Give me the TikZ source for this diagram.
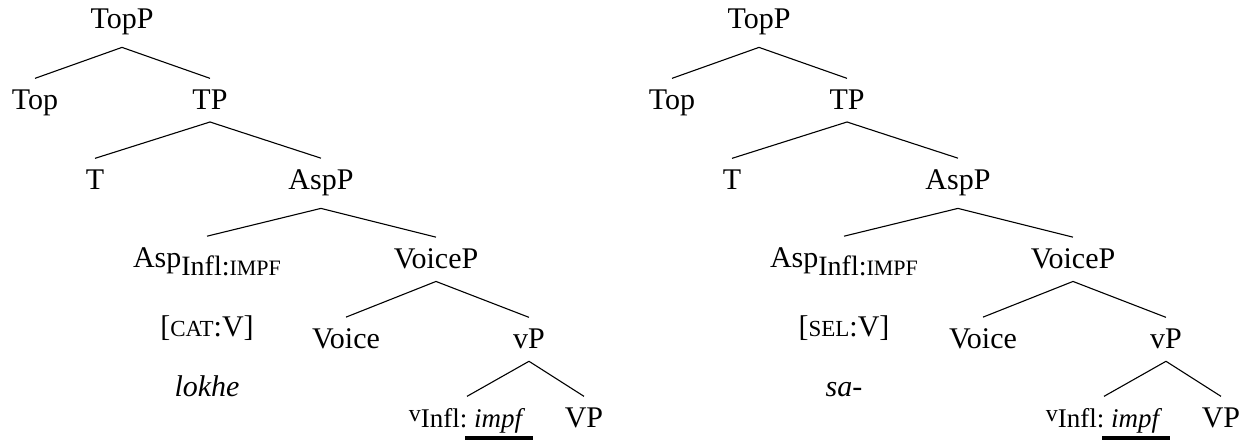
\documentclass[tikz,border=0pt]{standalone}
\usepackage{fontspec}
\setmainfont{Liberation Serif}
\newcommand{\fsz}[1]{\fontsize{#1}{#1}\selectfont}
\newcommand{\onetree}[2]{%
  \node[tn] (TopP) at (122,29) {TopP};
  \node[tn] (Top) at (35,110) {Top};
  \node[tn] (TP) at (210,110) {TP};
  \node[tn] (T) at (95,190) {T};
  \node[tn] (AspP) at (321,190) {AspP};
  \node[tn] (Asp) at (207,268) {Asp\raisebox{-8pt}{\fsz{28}Infl:\fsz{22}IMPF}};
  \node[tn] (VoiceP) at (436,269) {VoiceP};
  \node[plain] (feat) at (207,337) {[{\fsz{23}#1}:V]};
  \node[tn] (Voice) at (346,349) {Voice};
  \node[tn] (vP) at (529,349) {vP};
  \node[plain] (word) at (207,397) {\textit{#2}};
  \node[tn] (v) at (467,428) {\vphantom{P}\raisebox{6pt}{\fsz{24}v}{\fsz{27}Infl:\rlap{\hspace{-2pt}\rule[-11.75pt]{68pt}{3.5pt}}\ \textit{impf}}};
  \node[tn] (VP) at (584,428) {VP};
  \draw[edge] (TopP.south) -- (Top.north);
  \draw[edge] (TopP.south) -- (TP.north);
  \draw[edge] (TP.south) -- (T.north);
  \draw[edge] (TP.south) -- (AspP.north);
  \draw[edge] (AspP.south) -- (Asp.north);
  \draw[edge] (AspP.south) -- (VoiceP.north);
  \draw[edge] (VoiceP.south) -- (Voice.north);
  \draw[edge] (VoiceP.south) -- (vP.north);
  \draw[edge] (vP.south) -- (v.north);
  \draw[edge] (vP.south) -- (VP.north);
}
\begin{document}
\begin{tikzpicture}[x=1pt,y=-1pt,
  tn/.style={inner sep=0pt, outer xsep=0pt, outer ysep=12pt, anchor=base, font=\fsz{30}},
  plain/.style={inner sep=0pt, outer sep=0pt, anchor=base, font=\fsz{30}},
  edge/.style={line width=1.1pt, black}]
\useasboundingbox (0,0) rectangle (1254,443);
\begin{scope}[name prefix=L-]
  \onetree{CAT}{lokhe}
\end{scope}
\begin{scope}[xshift=637pt, name prefix=R-]
  \onetree{SEL}{sa-}
\end{scope}
\end{tikzpicture}
\end{document}
